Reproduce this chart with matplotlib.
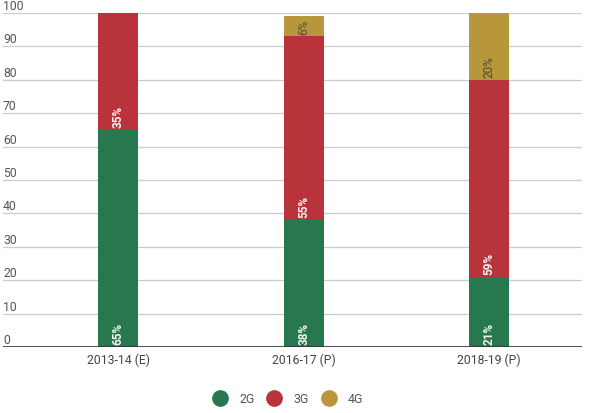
import matplotlib.pyplot as plt
from matplotlib.lines import Line2D

plt.rcParams["font.family"] = ["Roboto", "DejaVu Sans"]

# Data
years = ["2013-14 (E)", "2016-17 (P)", "2018-19 (P)"]
share_2g = [65, 38, 21]
share_3g = [35, 55, 59]
share_4g = [0, 6, 20]

series = [("2G", share_2g), ("3G", share_3g), ("4G", share_4g)]
colors = {"2G": "#27784f", "3G": "#b8333a", "4G": "#b8963c"}
label_colors = {"2G": "#f2f2f2", "3G": "#f2f2f2", "4G": "#4a4a3a"}

fig = plt.figure(figsize=(5.92, 4.14), dpi=100)
ax = fig.add_axes([3 / 592, 1 - 348 / 414, 579 / 592, 334 / 414])

x = list(range(len(years)))
bottom = [0] * len(years)
for name, vals in series:
    ax.bar(x, vals, bottom=bottom, width=0.216, color=colors[name], zorder=3)
    for xi, b, v in zip(x, bottom, vals):
        if v > 0:
            ax.text(xi, b + 0.8, f"{v}%", rotation=90, ha="center", va="bottom",
                    fontsize=8.5, color=label_colors[name],
                    fontweight="bold" if name != "4G" else "normal", zorder=4)
    bottom = [b + v for b, v in zip(bottom, vals)]

ax.set_xlim(-0.62, 2.5)
ax.set_ylim(0, 100)

# grid lines with labels sitting above them
for yv in range(0, 101, 10):
    if yv > 0:
        ax.axhline(yv, color="#cccccc", lw=0.9, zorder=1)
    ax.text(-0.62, yv + 0.3, str(yv), ha="left", va="bottom", fontsize=8.8,
            color="#555555", transform=ax.transData)
ax.axhline(0, color="#333333", lw=1.2, zorder=5)

ax.set_yticks([])
ax.set_xticks(x)
ax.set_xticklabels(years, fontsize=8.8, color="#444444")
ax.tick_params(axis="x", length=0, pad=4)
for s in ax.spines.values():
    s.set_visible(False)

handles = [Line2D([], [], marker="o", linestyle="", markersize=11,
                  markerfacecolor=colors[n], markeredgecolor=colors[n], label=n)
           for n, _ in series]
fig.legend(handles=handles, loc="center", bbox_to_anchor=(288 / 592, 1 - 400 / 414),
           ncol=3, frameon=False, fontsize=8.8, handletextpad=1.0, columnspacing=1.0,
           handlelength=1.2, labelcolor="#555555")

fig.savefig("out.png", dpi=100)
